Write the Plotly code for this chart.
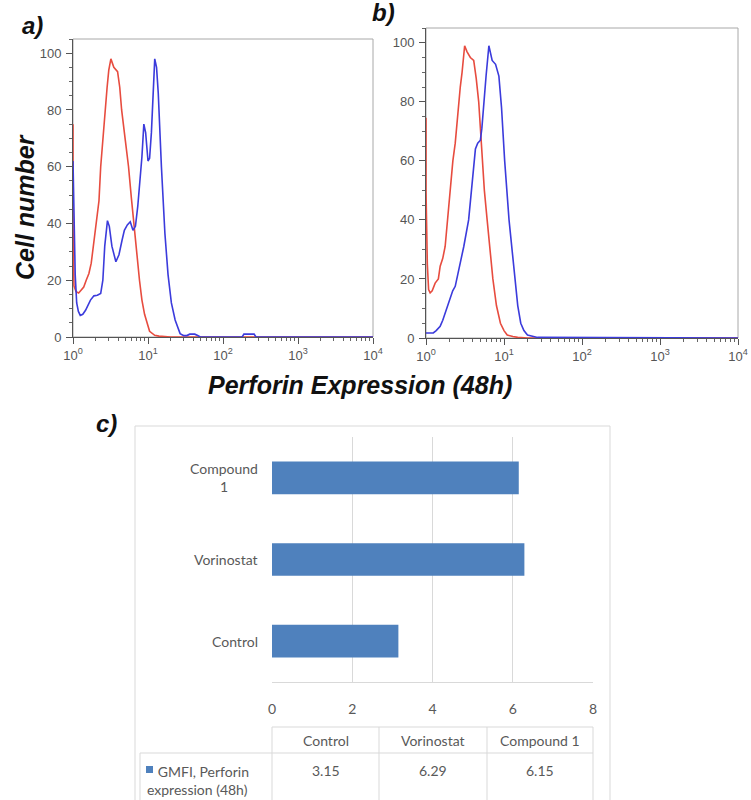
import plotly.graph_objects as go

W, H = 751, 800

# ---------------- data ----------------
# Panel a: histogram curves (Perforin expression, 48h)
a_control_x = [1.0, 1.0, 1.03, 1.1, 1.19, 1.3, 1.39, 1.5, 1.63, 1.75, 1.9, 2.05, 2.22, 2.34, 2.5, 2.65, 2.85, 3.0, 3.2, 3.5, 3.93, 4.2, 4.45, 5.0, 5.5, 6.0, 6.45, 7.0, 7.7, 8.3, 9.0, 10.5, 12.3, 14, 20, 30, 10000]
a_control_y = [75, 40, 18, 16, 15.5, 16.5, 17.6, 20, 22.4, 26, 34, 40, 48, 60, 70, 80, 88, 94, 98, 95, 93.5, 88, 80, 69, 60, 49, 40, 30, 20, 13, 8, 2, 0.6, 0.3, 0, 0, 0]

a_treated_x = [1.0, 1.03, 1.07, 1.12, 1.18, 1.25, 1.35, 1.47, 1.6, 1.71, 1.9, 2.11, 2.34, 2.5, 2.65, 2.88, 3.05, 3.3, 3.73, 4.1, 4.5, 4.84, 5.3, 5.8, 6.3, 6.8, 7.3, 7.8, 8.3, 8.8, 9.3, 10.0, 10.5, 11.1, 11.8, 12.3, 13.0, 13.7, 15.1, 16.8, 18.5, 20.5, 23, 25, 26.8, 30, 33, 36, 42, 46, 50, 180, 190, 200, 240, 260, 275, 10000]
a_treated_y = [62, 40, 22, 12, 9, 7.6, 8, 9.4, 11.5, 13, 14.5, 14.7, 15.3, 20, 32, 41, 39, 32, 26.5, 29, 34, 37.6, 39.5, 40.6, 37.6, 39, 46, 55, 63.5, 75, 72, 62, 63, 72, 88, 98, 95, 86, 60, 36.5, 22, 12, 6, 3, 1.2, 0.5, 0.5, 1, 1, 0.5, 0, 0, 1, 1, 1, 1, 0, 0]

# Panel b
b_control_x = [1.0, 1.0, 1.04, 1.08, 1.13, 1.2, 1.31, 1.44, 1.52, 1.64, 1.76, 1.89, 2.05, 2.21, 2.37, 2.5, 2.62, 2.75, 2.9, 3.13, 3.35, 3.7, 4.09, 4.4, 4.74, 5.0, 5.23, 5.6, 6.08, 6.6, 7.2, 8.0, 9.0, 10.0, 11, 13, 15, 20, 10000]
b_control_y = [74.6, 50, 25, 16.4, 15.3, 16, 18.6, 20, 24.3, 27, 31, 40, 48, 60, 66, 73, 80, 85, 90, 99, 97, 95, 94, 88, 80, 70, 60, 50, 40, 29, 20, 11, 5, 2.5, 1, 0.5, 0.2, 0, 0]

b_treated_x = [1.0, 1.1, 1.24, 1.35, 1.52, 1.64, 1.76, 1.9, 2.04, 2.2, 2.37, 2.49, 2.75, 3.05, 3.52, 3.8, 4.1, 4.3, 4.6, 4.98, 5.2, 5.6, 5.9, 6.4, 6.7, 7.05, 7.8, 8.6, 9.3, 10.2, 11.6, 12.6, 13.7, 15.0, 16.4, 18, 20, 23, 26.9, 10000]
b_treated_y = [1.7, 1.7, 1.7, 2.5, 4, 6, 8.5, 11, 14, 16, 17.5, 20, 25.4, 31, 40, 50, 60, 64, 66, 67, 71, 80, 89, 99, 96, 94, 92.7, 88.7, 78, 60, 40, 30, 20, 11, 5, 2.5, 1, 0.5, 0.2, 0]

x_tick_vals = [1, 10, 100, 1000, 10000]
x_tick_text = ["10<sup>0</sup>", "10<sup>1</sup>", "10<sup>2</sup>", "10<sup>3</sup>", "10<sup>4</sup>"]
y_tick_vals = [0, 20, 40, 60, 80, 100]

# Panel c: GMFI bar chart + table
groups = ["Control", "Vorinostat", "Compound 1"]
group_labels = ["Control", "Vorinostat", "Compound<br>1"]
gmfi = [3.15, 6.29, 6.15]
series_name = "GMFI, Perforin<br>expression (48h)"
c_ticks = [0, 2, 4, 6, 8]

# ---------------- styling ----------------
RED = "#e74c3f"
BLUE = "#3b3bdc"
BAR = "#4f81bd"
AX_FONT = dict(family="Liberation Sans, Arial", size=13, color="#555555")
C_FONT = dict(family="Lato, Open Sans", size=14, color="#595959")
GRID = "#d9d9d9"


def px(x):
    return x / W


def py(y):
    return 1 - y / H


fig = go.Figure()

for xs, ys, col, xa, ya in [
    (a_control_x, a_control_y, RED, "x", "y"),
    (a_treated_x, a_treated_y, BLUE, "x", "y"),
    (b_control_x, b_control_y, RED, "x2", "y2"),
    (b_treated_x, b_treated_y, BLUE, "x2", "y2"),
]:
    fig.add_trace(go.Scatter(x=xs, y=ys, mode="lines", line=dict(color=col, width=1.6),
                             xaxis=xa, yaxis=ya, showlegend=False, hoverinfo="skip"))

fig.add_trace(go.Bar(x=gmfi, y=groups, orientation="h", marker=dict(color=BAR, line=dict(width=0)),
                     xaxis="x3", yaxis="y3", showlegend=False, name=series_name))


def hist_axes(xdom, ydom):
    xa = dict(domain=xdom, type="log", range=[0, 4], tickvals=x_tick_vals, ticktext=x_tick_text,
              ticks="outside", ticklen=6, tickcolor="#555", showline=True, linecolor="#555",
              linewidth=1, showgrid=False, zeroline=False, tickfont=AX_FONT,
              minor=dict(ticks="outside", ticklen=3, tickcolor="#666", dtick="D1", showgrid=False))
    ya = dict(domain=ydom, range=[0, 105], tickvals=y_tick_vals, ticks="outside", ticklen=6,
              tickcolor="#555", showline=True, linecolor="#555", linewidth=1, showgrid=False,
              zeroline=False, tickfont=AX_FONT, ticklabelstandoff=2,
              minor=dict(ticks="outside", ticklen=3, tickcolor="#666", dtick=5, showgrid=False))
    return xa, ya


xa1, ya1 = hist_axes([px(73), px(373)], [py(337), py(39)])
xa2, ya2 = hist_axes([px(426), px(738)], [py(338), py(28)])
ya2["anchor"] = "x2"
xa2["anchor"] = "y2"

fig.update_layout(
    width=W, height=H, autosize=False, margin=dict(l=0, r=0, t=0, b=0, autoexpand=False),
    paper_bgcolor="white", plot_bgcolor="white",
    xaxis=xa1, yaxis=ya1, xaxis2=xa2, yaxis2=ya2,
    xaxis3=dict(domain=[px(272), px(593)], range=[0, 8], tickvals=c_ticks, showgrid=True,
                gridcolor=GRID, gridwidth=1, zeroline=False, showline=True, linecolor=GRID,
                ticks="", tickfont=C_FONT, anchor="y3", ticklabelstandoff=14),
    yaxis3=dict(domain=[py(682), py(437)], categoryorder="array", categoryarray=groups,
                showticklabels=False, showgrid=False, zeroline=False, showline=False, anchor="x3"),
    bargap=0.6,
    font=AX_FONT,
)

shapes = []
# frames around histograms
for xr, yr in [("x domain", "y domain"), ("x2 domain", "y2 domain")]:
    shapes.append(dict(type="rect", xref=xr, yref=yr, x0=0, x1=1, y0=0, y1=1,
                       line=dict(color="#a8a8a8", width=1), layer="below"))
# outer box of panel c
shapes.append(dict(type="rect", xref="paper", yref="paper", x0=px(135), x1=px(610), y0=py(812), y1=py(426),
                   line=dict(color=GRID, width=1)))
# table
col_edges = [272, 379, 487, 593]
t_top, t_mid, t_bot = 727, 753, 812
shapes.append(dict(type="line", xref="paper", yref="paper", x0=px(272), x1=px(593), y0=py(t_top), y1=py(t_top),
                   line=dict(color=GRID, width=1)))
shapes.append(dict(type="line", xref="paper", yref="paper", x0=px(140), x1=px(593), y0=py(t_mid), y1=py(t_mid),
                   line=dict(color=GRID, width=1)))
shapes.append(dict(type="line", xref="paper", yref="paper", x0=px(140), x1=px(140), y0=py(t_mid), y1=py(t_bot),
                   line=dict(color=GRID, width=1)))
for ce in col_edges:
    shapes.append(dict(type="line", xref="paper", yref="paper", x0=px(ce), x1=px(ce), y0=py(t_top), y1=py(t_bot),
                       line=dict(color=GRID, width=1)))
# legend key
shapes.append(dict(type="rect", xref="paper", yref="paper", x0=px(146), x1=px(153), y0=py(773), y1=py(766),
                   fillcolor=BAR, line=dict(width=0)))

annotations = []
BI = dict(family="Liberation Sans, Arial", color="#111111")
CM = dict(xref="paper", yref="paper", showarrow=False, xanchor="center", yanchor="middle")
annotations.append(dict(text="<b><i>a)</i></b>", x=px(32), y=py(26), font=dict(size=24, **BI), **CM))
annotations.append(dict(text="<b><i>b)</i></b>", x=px(383), y=py(12), font=dict(size=24, **BI), **CM))
annotations.append(dict(text="<b><i>c)</i></b>", x=px(106), y=py(423), font=dict(size=24, **BI), **CM))
annotations.append(dict(text="<b><i>Cell number</i></b>", x=px(25), y=py(207), textangle=-90,
                        font=dict(size=25, **BI), **CM))
annotations.append(dict(text="<b><i>Perforin Expression (48h)</i></b>", x=px(360), y=py(385),
                        font=dict(size=25, **BI), **CM))

# category labels for bar chart
for g, lab in zip(groups, group_labels):
    annotations.append(dict(text=lab, x=px(260), y=g, xref="paper", yref="y3", xanchor="right",
                            yanchor="middle", align="center", showarrow=False, font=C_FONT))
# table header and values
for i, (g, v) in enumerate(zip(groups, gmfi)):
    cx = (col_edges[i] + col_edges[i + 1]) / 2
    annotations.append(dict(text=g, x=px(cx), y=py(740), font=C_FONT, **CM))
    annotations.append(dict(text=f"{v:.2f}", x=px(cx), y=py(770), font=C_FONT, **CM))
annotations.append(dict(text="&nbsp;&nbsp;&nbsp;" + series_name, x=px(145), y=py(761), xref="paper", yref="paper",
                        xanchor="left", yanchor="top", align="left", showarrow=False, font=C_FONT))

fig.update_layout(shapes=shapes, annotations=annotations)

post = ("document.body.style.margin='0';document.body.style.overflow='hidden';"
        "Plotly.relayout(document.getElementById('{plot_id}'),{width:751,height:800});")
fig.write_html("out.html", config={"responsive": False, "displayModeBar": False},
               default_width="751px", default_height="800px", post_script=post)
